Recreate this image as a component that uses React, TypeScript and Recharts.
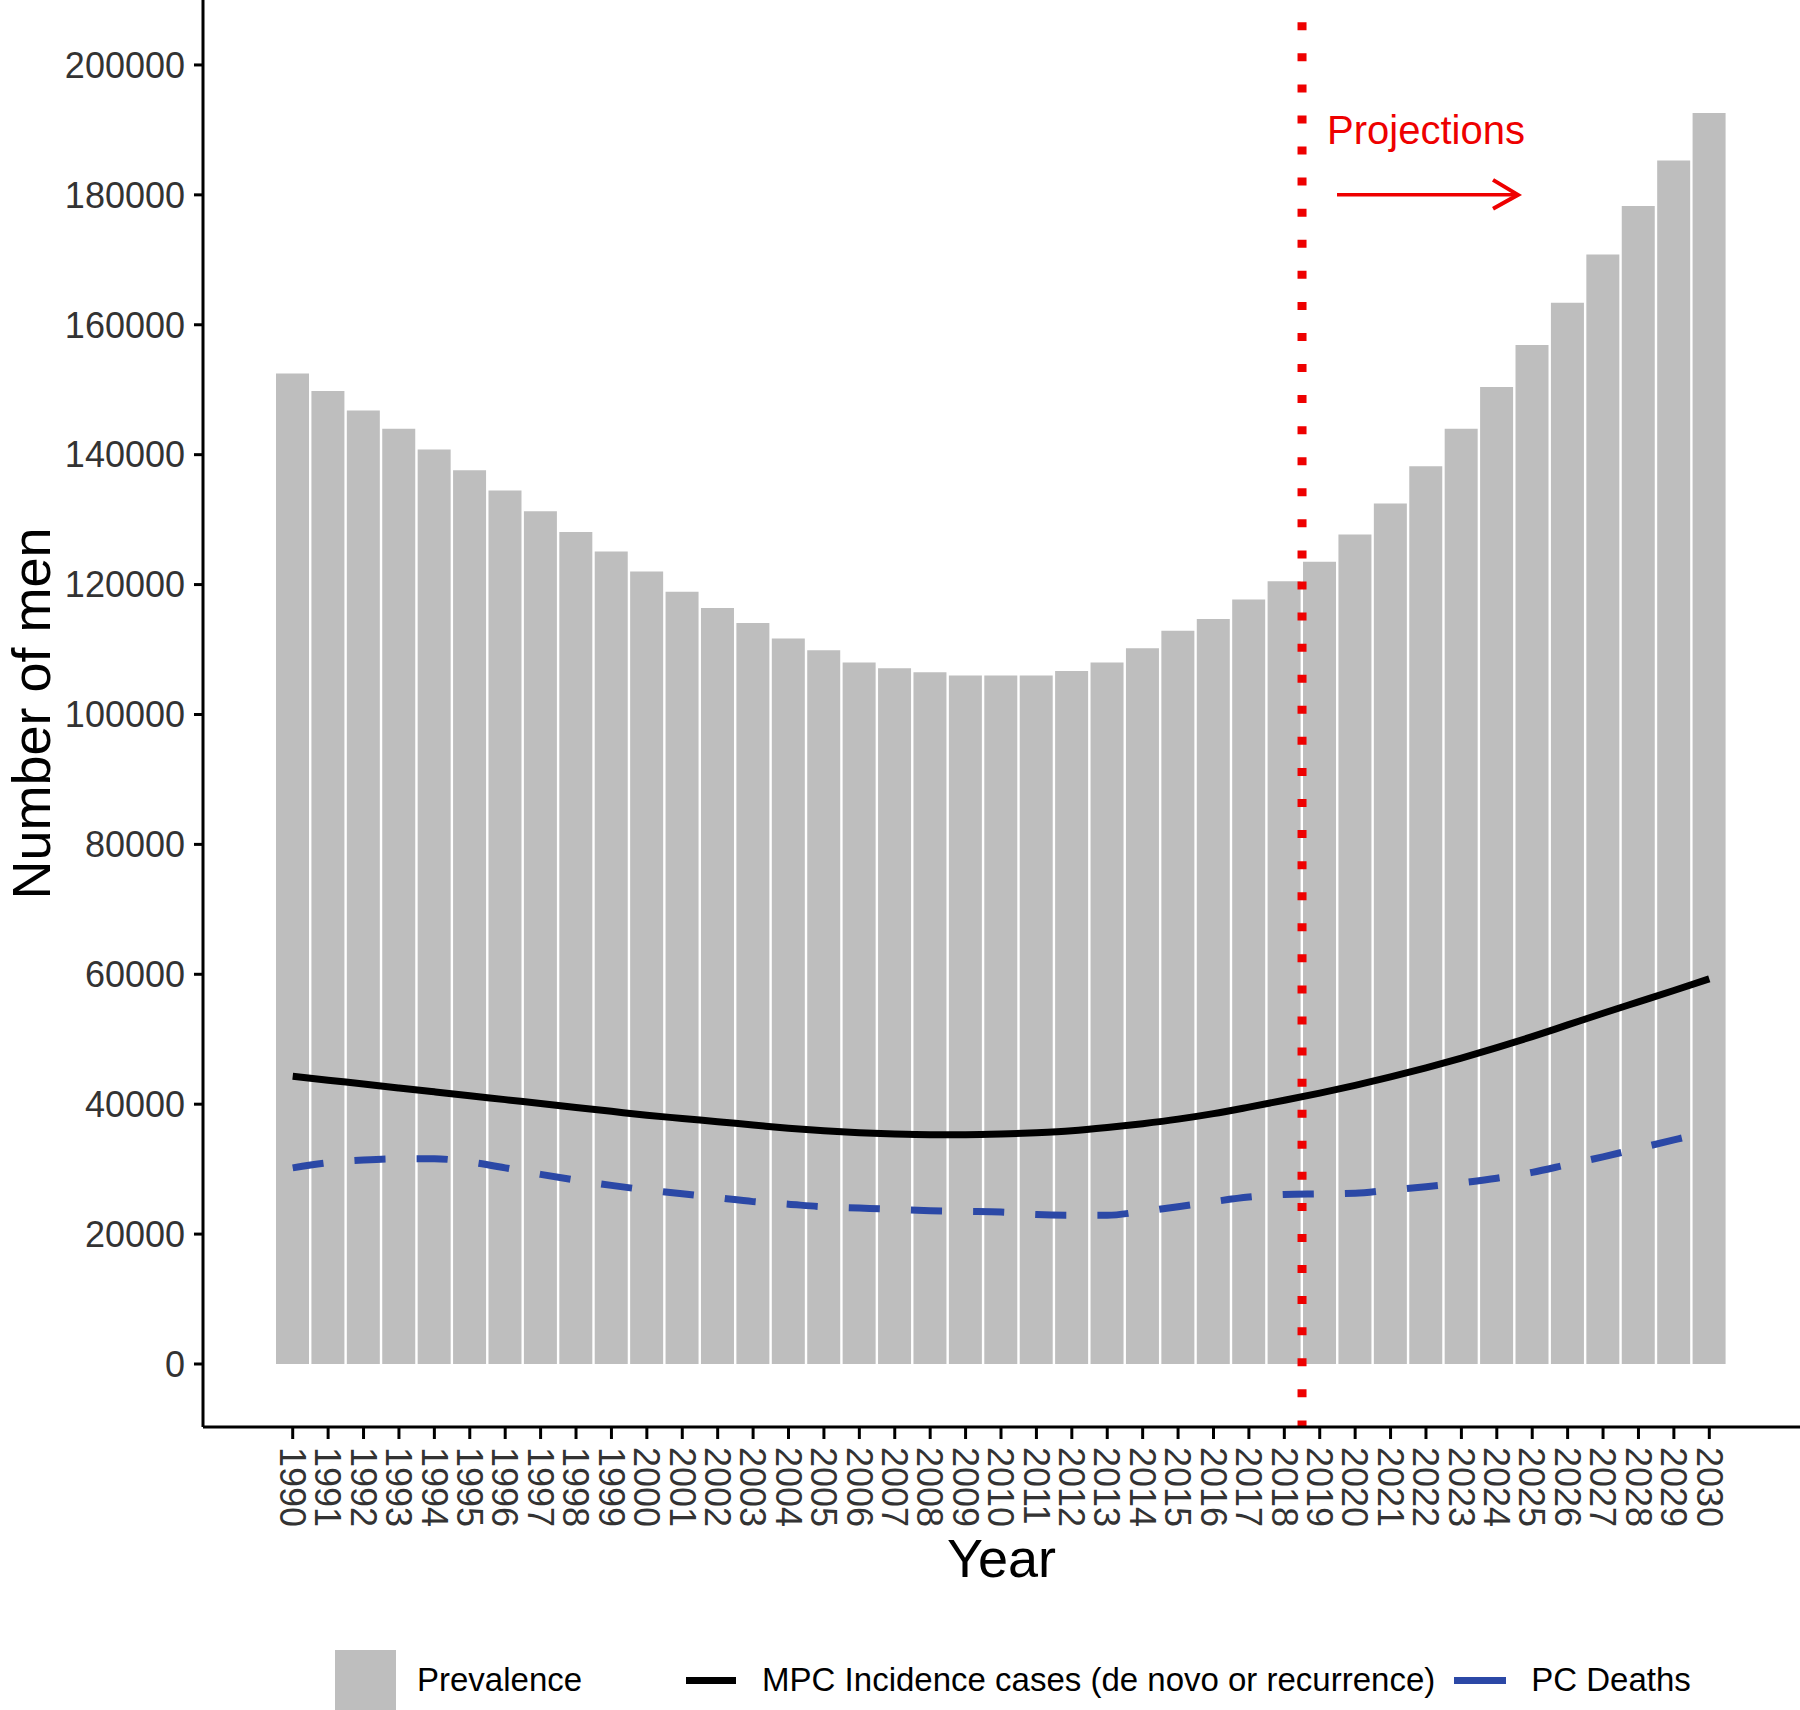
import React from "react"
import {
  Bar,
  ComposedChart,
  Label,
  Legend,
  Line,
  ReferenceLine,
  XAxis,
  YAxis,
} from "recharts"

const years = [
  "1990", "1991", "1992", "1993", "1994", "1995", "1996", "1997", "1998", "1999",
  "2000", "2001", "2002", "2003", "2004", "2005", "2006", "2007", "2008", "2009",
  "2010", "2011", "2012", "2013", "2014", "2015", "2016", "2017", "2018", "2019",
  "2020", "2021", "2022", "2023", "2024", "2025", "2026", "2027", "2028", "2029",
  "2030",
]

const prevalence = [
  152500, 149800, 146800, 144000, 140800, 137600, 134500, 131300, 128100, 125100,
  122000, 118900, 116400, 114100, 111700, 109900, 108000, 107100, 106500, 106000,
  106000, 106000, 106700, 108000, 110200, 112900, 114700, 117700, 120500, 123500,
  127700, 132500, 138200, 144000, 150400, 156900, 163400, 170800, 178300, 185300,
  192600,
]

const mpcIncidence = [
  44300, 43700, 43100, 42500, 41900, 41300, 40700, 40100, 39500, 38900,
  38300, 37800, 37300, 36800, 36300, 35900, 35600, 35400, 35300, 35300,
  35400, 35600, 35900, 36400, 37000, 37700, 38550, 39550, 40600, 41700,
  42900, 44200, 45600, 47100, 48700, 50400, 52200, 54000, 55750, 57500,
  59300,
]

const pcDeaths = [
  30200, 31000, 31400, 31600, 31600, 31100, 30200, 29200, 28300, 27500,
  26800, 26200, 25600, 25000, 24600, 24200, 24000, 23800, 23600, 23500,
  23400, 23000, 22900, 22900, 23500, 24200, 25000, 25700, 26100, 26200,
  26300, 26800, 27300, 27900, 28600, 29500, 30700, 31900, 33200, 34500,
  35800,
]

const yTicks = [0, 20000, 40000, 60000, 80000, 100000, 120000, 140000, 160000, 180000, 200000]
const Y_MIN = -9700
const Y_MAX = 210000

// last observed year; projections start after it
const lastObservedYear = "2018"
const arrowValue = 180000

const legendNames = ["Prevalence", "MPC Incidence cases (de novo or recurrence)", "PC Deaths"]

const data = years.map((year, i) => ({
  year,
  prevalence: prevalence[i],
  mpc: mpcIncidence[i],
  deaths: pcDeaths[i],
}))

const FONT = "'Liberation Sans', Arial, Helvetica, sans-serif"
const RED = "#EE0000"
const BLUE = "#2B48A6"
const GREY = "#BEBEBE"

function XTick(props: any) {
  const { x, y, payload } = props
  return (
    <text
      x={x}
      y={y}
      transform={`rotate(90, ${x}, ${y})`}
      textAnchor="start"
      dy="0.355em"
      fontSize={36}
      fill="#333333"
      fontFamily={FONT}
    >
      {payload.value}
    </text>
  )
}

function YTitle(props: any) {
  const vb = props.viewBox
  const cx = 50
  const cy = vb.y + vb.height / 2
  return (
    <text
      x={cx}
      y={cy}
      transform={`rotate(-90, ${cx}, ${cy})`}
      textAnchor="middle"
      fontSize={54}
      fill="#000"
      fontFamily={FONT}
    >
      Number of men
    </text>
  )
}

function ProjectionLabel(props: any) {
  const vb = props.viewBox
  const x0 = vb.x
  const ya = vb.y + ((Y_MAX - arrowValue) / (Y_MAX - Y_MIN)) * vb.height
  return (
    <g>
      <text x={x0 + 25} y={ya - 51} fill={RED} fontSize={40} fontFamily={FONT}>
        Projections
      </text>
      <line x1={x0 + 35} y1={ya} x2={x0 + 215} y2={ya} stroke={RED} strokeWidth={3.5} />
      <polyline
        points={`${x0 + 191},${ya - 15} ${x0 + 216},${ya} ${x0 + 191},${ya + 14}`}
        fill="none"
        stroke={RED}
        strokeWidth={4}
      />
    </g>
  )
}

function renderLegend() {
  return (
    <div
      style={{
        display: "flex",
        alignItems: "center",
        height: 60,
        paddingLeft: 335,
        fontFamily: FONT,
        fontSize: 33,
        color: "#000",
        whiteSpace: "nowrap",
      }}
    >
      <span style={{ width: 61, height: 60, background: GREY, flex: "none" }} />
      <span style={{ marginLeft: 21 }}>{legendNames[0]}</span>
      <span style={{ marginLeft: 104, width: 50, height: 7, background: "#000", flex: "none" }} />
      <span style={{ marginLeft: 26 }}>{legendNames[1]}</span>
      <span style={{ marginLeft: 19, width: 52, height: 7, background: BLUE, flex: "none" }} />
      <span style={{ marginLeft: 25 }}>{legendNames[2]}</span>
    </div>
  )
}

export default function App() {
  return (
    <div style={{ position: "absolute", left: 0, top: 0, background: "#fff", fontFamily: FONT }}>
      <ComposedChart
        width={1800}
        height={1710}
        data={data}
        margin={{ top: 0, right: 0, bottom: 0, left: 0 }}
        barCategoryGap={1}
      >
        <XAxis
          dataKey="year"
          interval={0}
          height={223}
          padding={{ left: 72, right: 73 }}
          axisLine={{ stroke: "#000", strokeWidth: 3 }}
          tickLine={{ stroke: "#000", strokeWidth: 3 }}
          tickSize={12}
          tickMargin={8}
          tick={<XTick />}
          label={{ value: "Year", position: "insideBottom", offset: 73, fontSize: 54, fill: "#000", fontFamily: FONT }}
        />
        <YAxis
          type="number"
          width={203}
          domain={[Y_MIN, Y_MAX]}
          ticks={yTicks}
          interval={0}
          allowDataOverflow
          axisLine={{ stroke: "#000", strokeWidth: 3 }}
          tickLine={{ stroke: "#000", strokeWidth: 3 }}
          tickSize={9}
          tickMargin={9}
          tick={{ fontSize: 36, fill: "#333333", fontFamily: FONT }}
        >
          <Label content={<YTitle />} />
        </YAxis>
        <Legend
          content={renderLegend}
          verticalAlign="bottom"
          wrapperStyle={{ left: 0, bottom: 0, width: 1800, height: 60 }}
        />
        <Bar dataKey="prevalence" name={legendNames[0]} fill={GREY} isAnimationActive={false} />
        <Line
          type="monotone"
          dataKey="mpc"
          name={legendNames[1]}
          stroke="#000"
          strokeWidth={7}
          dot={false}
          activeDot={false}
          isAnimationActive={false}
        />
        <Line
          type="monotone"
          dataKey="deaths"
          name={legendNames[2]}
          stroke={BLUE}
          strokeWidth={7}
          strokeDasharray="31.1 31.1"
          dot={false}
          activeDot={false}
          isAnimationActive={false}
        />
        <ReferenceLine
          x={lastObservedYear}
          position="end"
          stroke={RED}
          strokeWidth={9}
          strokeDasharray="8 23.07"
          strokeDashoffset={1.4}
          label={(p: any) => <ProjectionLabel {...p} />}
        />
      </ComposedChart>
    </div>
  )
}
